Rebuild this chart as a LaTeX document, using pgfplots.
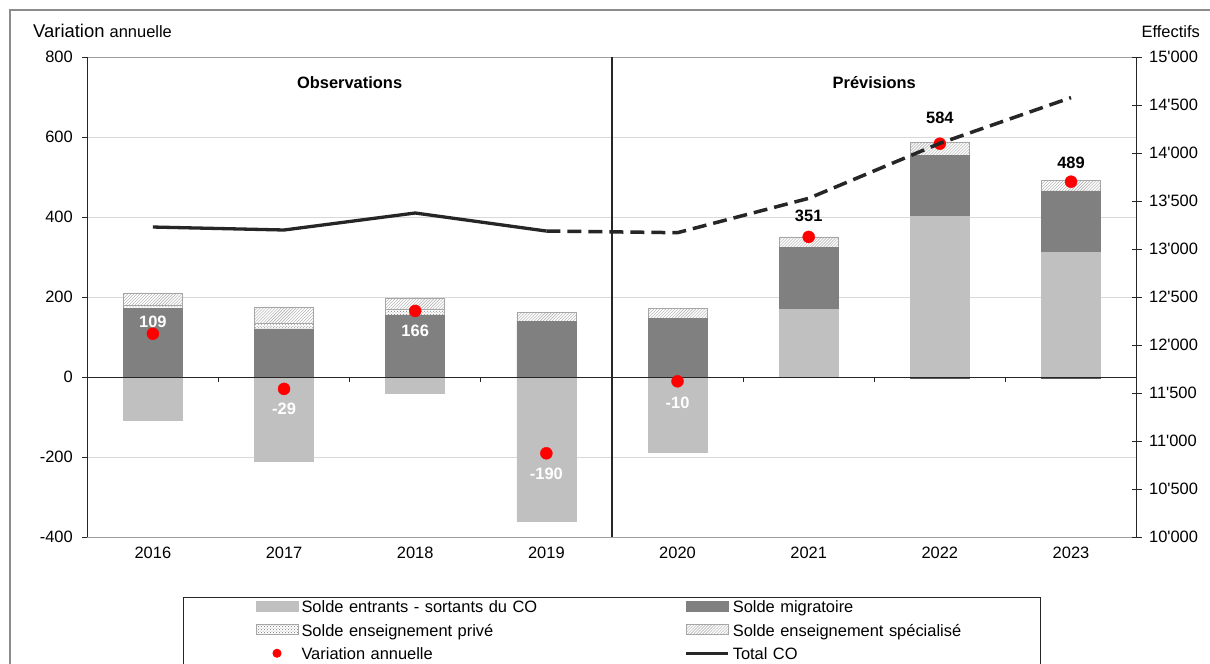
\documentclass[border=0pt]{standalone}
\usepackage{fontspec}
\setmainfont{Liberation Sans}
\usepackage{pgfplots}
\pgfplotsset{compat=1.18}
\usepackage{pgfplotstable}
\usetikzlibrary{patterns}

\definecolor{lightbar}{HTML}{C0C0C0}
\definecolor{darkbar}{HTML}{808080}
\definecolor{gridc}{HTML}{D9D9D9}
\definecolor{linec}{HTML}{262626}
\definecolor{hatchc}{HTML}{A6A6A6}
\definecolor{framec}{HTML}{8C8C8C}

\newcommand\ff{\fontsize{16.5}{19}\selectfont}

\pgfplotstableread{
x lneg pneg
0 -107 0
1 -210 0
2 -40 0
3 -360 0
4 -188 0
5 0 0
6 0 -3
7 0 -3
}\negdata

\pgfplotstableread{
x lpos dark ppos spec
0 0 173 6 32
1 0 121 13 42
2 0 156 14 28
3 0 140 0 22
4 0 148 0 24
5 170 155 0 26
6 403 152 0 32
7 313 153 0 26
}\posdata

\pgfplotstableread{
x y
0 109
1 -29
2 166
3 -190
4 -10
5 351
6 584
7 489
}\vardata

\pgfplotstableread{
x y s lab
0 109 12 109
1 -29 -20 -29
2 166 -20 166
3 -190 -21 -190
4 -10 -22 -10
}\varwhite

\pgfplotstableread{
x y s lab
5 351 21 351
6 584 26 584
7 489 19 489
}\varblack

\pgfplotstableread{
x y
0 13232
1 13201
2 13378
3 13190
}\totobs

\pgfplotstableread{
x y
3 13190
4 13173
5 13531
6 14104
7 14580
}\totprev

\pgfplotsset{
  base/.style={at={(87.3bp,126.7bp)}, anchor=south west, scale only axis,
    width=1049.4bp, height=480bp, xmin=-0.5, xmax=7.5, enlargelimits=false},
  swatch/.style={legend image code/.code={\draw[##1] (0bp,-3bp) rectangle (42bp,7bp);}},
  lineimg/.style={legend image code/.code={\draw[##1] (0bp,2bp) -- (42bp,2bp);}},
  dotimg/.style={legend image code/.code={\fill[red] (21bp,2bp) circle (4bp);}},
  privstyle/.style={fill=white, draw=gray!70, line width=0.6bp,
    postaction={pattern=crosshatch dots, pattern color=black!55}},
  specstyle/.style={fill=white, draw=gray!70, line width=0.6bp,
    postaction={pattern=north east lines, pattern color=hatchc}},
}

\begin{document}
\begin{tikzpicture}
\useasboundingbox (0,0) rectangle (1210bp,664bp);
\draw[framec, line width=1.3bp] (10bp,-30bp) rectangle (1250bp,654bp);

% background axis: frame, grid, left ticks, years, separator
\begin{axis}[base,
  ymin=-400, ymax=800,
  ytick={-400,-200,...,800},
  yticklabels={-400,-200,0,200,400,600,800},
  ytick pos=left, ytick align=outside, major tick length=5bp,
  ymajorgrids, grid style={gridc, line width=1.2bp},
  xtick={0,...,7}, xticklabels={2016,2017,2018,2019,2020,2021,2022,2023},
  major x tick style={draw=none},
  separate axis lines,
  x axis line style={gray!75, line width=1.2bp},
  y axis line style={linec, line width=1.3bp},
  tick style={linec, line width=1bp},
  ticklabel style={font=\ff, text=black},
  yticklabel style={xshift=-6bp},
  xticklabel style={yshift=-6bp},
  clip=false,
]
\addplot[linec, line width=1.3bp] coordinates {(3.5,-400) (3.5,800)};
\node[font=\bfseries\ff] at (axis cs:1.5,736) {Observations};
\node[font=\bfseries\ff] at (axis cs:5.5,736) {Prévisions};
\end{axis}

% positive stacked bars
\begin{axis}[base, hide axis, ymin=-400, ymax=800, ybar stacked, bar width=59bp]
\addplot[fill=lightbar, draw=lightbar, line width=0.6bp] table[x=x,y=lpos]{\posdata};
\addplot[fill=darkbar, draw=darkbar, line width=0.6bp] table[x=x,y=dark]{\posdata};
\addplot[privstyle] table[x=x,y=ppos]{\posdata};
\addplot[specstyle] table[x=x,y=spec]{\posdata};
\end{axis}

% negative stacked bars + zero line
\begin{axis}[base, ymin=-400, ymax=800, ybar stacked, bar width=59bp,
  axis on top,
  axis x line*=middle, axis y line=none,
  xtick={0.5,1.5,...,6.5}, xticklabels={},
  xtick align=outside, major tick length=5bp,
  x axis line style={linec, line width=1.3bp, -},
  tick style={linec, line width=1bp}]
\addplot[fill=lightbar, draw=lightbar, line width=0.6bp] table[x=x,y=lneg]{\negdata};
\addplot[fill=darkbar!70!black, draw=darkbar!70!black, line width=0.6bp] table[x=x,y=pneg]{\negdata};
\end{axis}

% dots, labels, legend
\begin{axis}[base, hide axis, ymin=-400, ymax=800, clip=false,
  legend columns=2,
  legend cell align=left,
  legend style={at={(0.0912,-0.1244)}, anchor=north west,
    draw=linec, line width=1bp, fill=white,
    inner xsep=72bp, inner ysep=3bp, row sep=8bp, column sep=3bp,
    font=\ff, text=black,
    nodes={inner sep=0pt, text height=12bp, text depth=3.5bp},
    /tikz/column 2/.style={nodes={text width=380bp}},
    /tikz/column 4/.style={nodes={text width=236bp}}},
]
\addlegendimage{swatch, fill=lightbar, draw=lightbar}
\addlegendimage{swatch, fill=darkbar, draw=darkbar}
\addlegendimage{swatch, privstyle}
\addlegendimage{swatch, specstyle}
\addplot[only marks, mark=*, mark size=6bp, color=red, mark options={fill=red, draw=red}, dotimg]
  table[x=x,y=y]{\vardata};
\addlegendimage{linec, line width=3.3bp, lineimg}
\addplot[draw=none, mark=none, forget plot, nodes near coords, point meta=explicit symbolic,
  visualization depends on={\thisrow{s}\as\myshift},
  every node near coord/.style={font=\bfseries\ff, text=white, anchor=center, yshift=\myshift pt}]
  table[x=x,y=y,meta=lab]{\varwhite};
\addplot[draw=none, mark=none, forget plot, nodes near coords, point meta=explicit symbolic,
  visualization depends on={\thisrow{s}\as\myshift},
  every node near coord/.style={font=\bfseries\ff, text=black, anchor=center, yshift=\myshift pt}]
  table[x=x,y=y,meta=lab]{\varblack};
\legend{Solde entrants - sortants du CO, Solde migratoire, Solde enseignement privé, Solde enseignement spécialisé, Variation annuelle, Total CO}
\end{axis}

% right axis: Total CO
\begin{axis}[base, ymin=10000, ymax=15000,
  axis y line*=right, axis x line=none,
  scaled y ticks=false,
  ytick={10000,10500,...,15000},
  yticklabels={10\textquotesingle000,10\textquotesingle500,11\textquotesingle000,11\textquotesingle500,12\textquotesingle000,12\textquotesingle500,13\textquotesingle000,13\textquotesingle500,14\textquotesingle000,14\textquotesingle500,15\textquotesingle000},
  ytick align=center, major tick length=10bp,
  y axis line style={linec, line width=1.3bp, -},
  tick style={linec, line width=1bp},
  ticklabel style={font=\ff, text=black},
  yticklabel style={xshift=4bp}]
\addplot[linec, line width=3.3bp] table{\totobs};
\addplot[linec, line width=3.5bp, dash pattern=on 14bp off 7bp] table{\totprev};
\end{axis}

\node[anchor=base west, inner sep=0pt] at (33bp,626bp) {\fontsize{18.5}{21}\selectfont Variation \ff annuelle};
\node[anchor=base east, inner sep=0pt, font=\ff] at (1200bp,626bp) {Effectifs};
\end{tikzpicture}
\end{document}
